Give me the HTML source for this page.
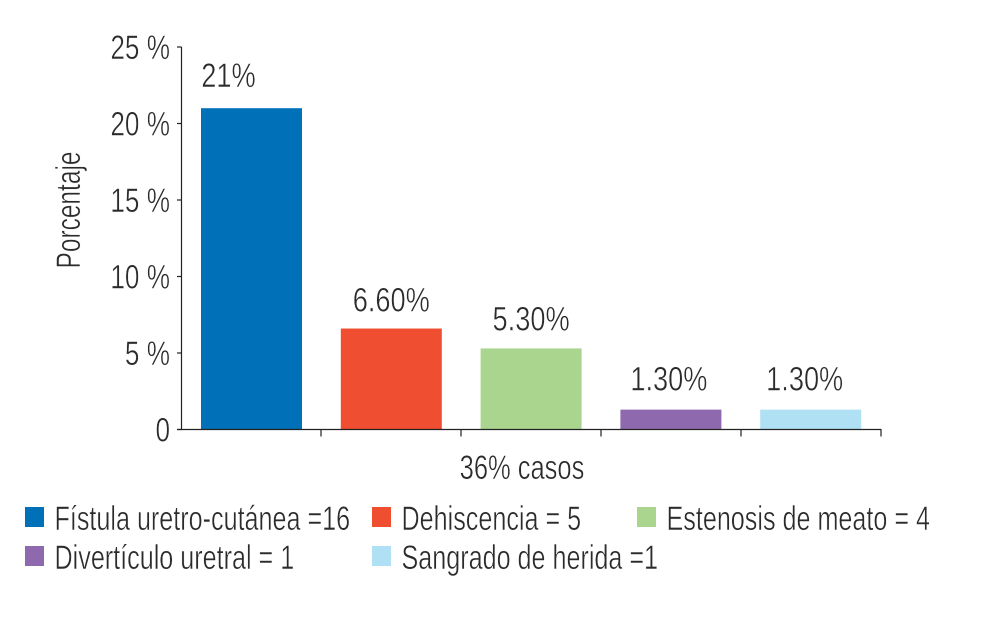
<!DOCTYPE html>
<html lang="es">
<head>
<meta charset="utf-8">
<title>Complicaciones</title>
<style>
html,body{margin:0;padding:0;background:#fff;width:983px;height:620px;overflow:hidden}
svg{display:block}
text{font-family:"Liberation Sans",sans-serif;fill:#2b2b2b;font-size:34px;stroke:#fff;stroke-width:.5px;paint-order:normal}
</style>
</head>
<body>
<svg id="chart" width="983" height="620" viewBox="0 0 983 620" xmlns="http://www.w3.org/2000/svg">
<rect width="983" height="620" fill="#fff"/>
<text transform="translate(80,210) rotate(-90) scale(.72,1)" text-anchor="middle">Porcentaje</text>
<text transform="translate(522,479) scale(.75,1)" text-anchor="middle">36% casos</text>
<g id="marks"></g>
<g id="axes"></g>
<g id="legend"></g>
</svg>
<script>
const categories = ["Fístula uretro-cutánea", "Dehiscencia", "Estenosis de meato", "Divertículo uretral", "Sangrado de herida"];
const percentValues = [21, 6.6, 5.3, 1.3, 1.3];
const printedValues = ["21%", "6.60%", "5.30%", "1.30%", "1.30%"];
const yTickValues = [0, 5, 10, 15, 20, 25];
const yTickLabels = ["0", "5 %", "10 %", "15 %", "20 %", "25 %"];
const legendLabels = ["Fístula uretro-cutánea =16", "Dehiscencia = 5", "Estenosis de meato = 4", "Divertículo uretral = 1", "Sangrado de herida =1"];

const NS = "http://www.w3.org/2000/svg";
const barColors = ["#0070b8", "#f04e30", "#aad58e", "#8f69ae", "#b0e0f4"];
const labelNudge = [-23, 0, 0, -2, -6];
const labelGap = [21, 17, 18, 19, 19];
const legendSlots = [[25, 507], [372, 507], [637, 507], [25, 546], [372, 546]];
const X0 = 181.5, BAND = 140, Y0 = 429.5, PX_PER_UNIT = 15.3, BAR_W = 101;

function yScale(v) { return Y0 - v * PX_PER_UNIT; }
function xBand(i) { return X0 + 19.5 + i * 139.8; }
function mk(tag, parent, attrs) {
  const el = document.createElementNS(NS, tag);
  for (const k in attrs) el.setAttribute(k, attrs[k]);
  parent.appendChild(el);
  return el;
}

const marks = document.getElementById("marks");
const axes = document.getElementById("axes");
const legend = document.getElementById("legend");

categories.forEach(function (c, i) {
  const top = yScale(percentValues[i]);
  const bar = mk("rect", marks, { x: xBand(i), y: top, width: BAR_W, height: Y0 - top, fill: barColors[i] });
  
  
  const label = mk("text", marks, {
    transform: "translate(" + (xBand(i) + BAR_W / 2 + labelNudge[i]) + "," + (top - labelGap[i]) + ") scale(.8,1)",
    "text-anchor": "middle"
  });
  label.textContent = printedValues[i];
  
  
});

const yAxis = mk("line", axes, { x1: X0, x2: X0, y1: yScale(25), y2: Y0, stroke: "#222", "stroke-width": 1.2 });


const xAxis = mk("line", axes, { x1: 177, x2: X0 + BAND * 5, y1: Y0, y2: Y0, stroke: "#222", "stroke-width": 1.2 });



yTickValues.forEach(function (v, i) {
  const y = yScale(v);
  const tick = mk("line", axes, { x1: 177, x2: X0, y1: y, y2: y, stroke: "#222", "stroke-width": 1.2 });
  
  
  const t = mk("text", axes, { transform: "translate(170," + (y + 12) + ") scale(.77,1)", "text-anchor": "end" });
  t.textContent = yTickLabels[i];
  
  
});

categories.forEach(function (c, i) {
  const x = X0 + BAND * (i + 1) - 0.5;
  const tick = mk("line", axes, { x1: x, x2: x, y1: Y0, y2: Y0 + 7, stroke: "#222", "stroke-width": 1.2 });
  
  
});

legendLabels.forEach(function (txt, i) {
  const s = legendSlots[i];
  const sw = mk("rect", legend, { x: s[0], y: s[1], width: 19, height: 20, fill: barColors[i] });
  
  
  const t = mk("text", legend, { transform: "translate(" + (s[0] + 29.5) + "," + (s[1] + 23) + ") scale(.74,1)" });
  t.textContent = txt;
  
  
});
</script>
</body>
</html>
